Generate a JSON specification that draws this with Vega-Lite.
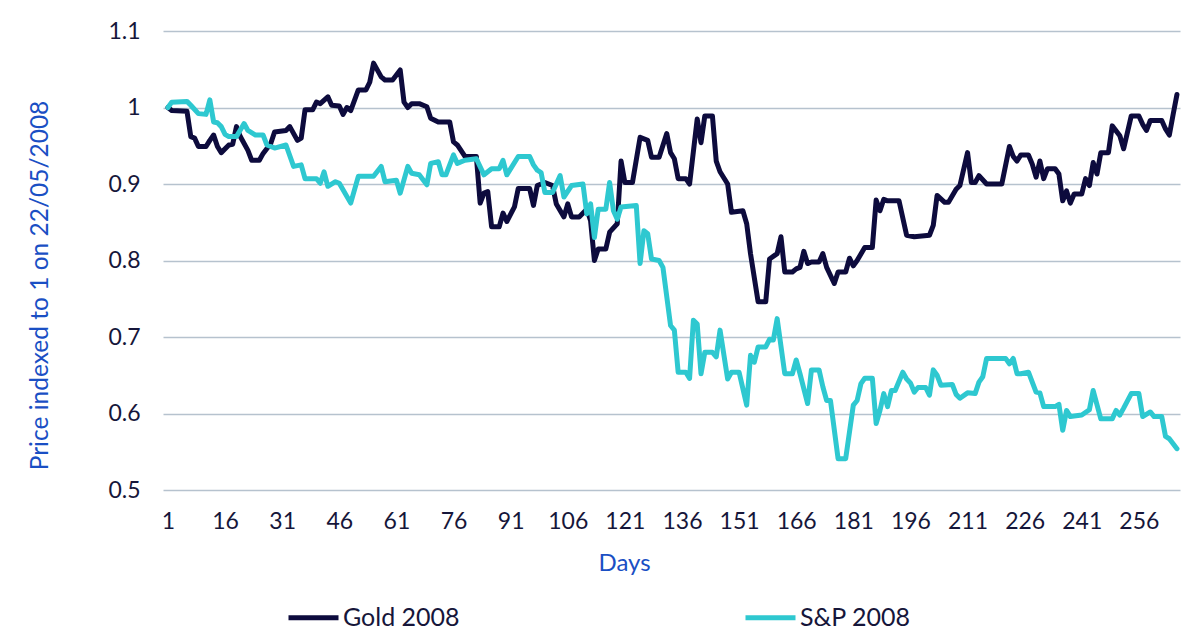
{
  "$schema": "https://vega.github.io/schema/vega-lite/v6.json",
  "width": 1017,
  "height": 459,
  "autosize": "none",
  "padding": {"left": 163, "top": 31, "right": 20, "bottom": 141},
  "background": "white",
  "config": {
    "font": "Lato",
    "view": {"stroke": null}
  },
  "datasets": {
    "gold": [
      {"day":1,"value":1.0},{"day":2,"value":0.996},{"day":6,"value":0.995},{"day":7,"value":0.962},{"day":8,"value":0.96},{"day":9,"value":0.949},{"day":11,"value":0.949},{"day":12,"value":0.957},{"day":13,"value":0.964},{"day":14,"value":0.949},{"day":15,"value":0.941},{"day":17,"value":0.951},{"day":18,"value":0.952},{"day":19,"value":0.975},{"day":20,"value":0.962},{"day":22,"value":0.944},{"day":23,"value":0.931},{"day":25,"value":0.931},{"day":26,"value":0.940},{"day":28,"value":0.953},{"day":29,"value":0.968},{"day":32,"value":0.970},{"day":33,"value":0.975},{"day":35,"value":0.957},{"day":36,"value":0.96},{"day":37,"value":0.997},{"day":39,"value":0.997},{"day":40,"value":1.007},{"day":41,"value":1.005},{"day":43,"value":1.014},{"day":44,"value":1.003},{"day":46,"value":1.002},{"day":47,"value":0.991},{"day":48,"value":1.0},{"day":49,"value":0.996},{"day":51,"value":1.023},{"day":53,"value":1.023},{"day":54,"value":1.033},{"day":55,"value":1.058},{"day":57,"value":1.040},{"day":58,"value":1.036},{"day":60,"value":1.036},{"day":62,"value":1.049},{"day":63,"value":1.007},{"day":64,"value":1.0},{"day":65,"value":1.005},{"day":67,"value":1.005},{"day":69,"value":1.001},{"day":70,"value":0.986},{"day":72,"value":0.981},{"day":75,"value":0.981},{"day":76,"value":0.955},{"day":77,"value":0.951},{"day":79,"value":0.936},{"day":82,"value":0.936},{"day":83,"value":0.875},{"day":84,"value":0.888},{"day":85,"value":0.890},{"day":86,"value":0.844},{"day":88,"value":0.844},{"day":89,"value":0.862},{"day":90,"value":0.851},{"day":92,"value":0.870},{"day":93,"value":0.894},{"day":96,"value":0.894},{"day":97,"value":0.872},{"day":98,"value":0.898},{"day":100,"value":0.902},{"day":102,"value":0.898},{"day":103,"value":0.874},{"day":105,"value":0.857},{"day":106,"value":0.874},{"day":107,"value":0.857},{"day":109,"value":0.857},{"day":111,"value":0.867},{"day":112,"value":0.852},{"day":113,"value":0.8},{"day":114,"value":0.815},{"day":116,"value":0.815},{"day":117,"value":0.837},{"day":119,"value":0.848},{"day":120,"value":0.930},{"day":121,"value":0.902},{"day":123,"value":0.902},{"day":125,"value":0.961},{"day":127,"value":0.957},{"day":128,"value":0.935},{"day":130,"value":0.935},{"day":132,"value":0.966},{"day":133,"value":0.941},{"day":134,"value":0.933},{"day":135,"value":0.907},{"day":137,"value":0.907},{"day":138,"value":0.9},{"day":140,"value":0.985},{"day":141,"value":0.954},{"day":142,"value":0.989},{"day":144,"value":0.989},{"day":145,"value":0.930},{"day":146,"value":0.916},{"day":148,"value":0.9},{"day":149,"value":0.863},{"day":152,"value":0.865},{"day":153,"value":0.848},{"day":154,"value":0.809},{"day":156,"value":0.746},{"day":158,"value":0.746},{"day":159,"value":0.802},{"day":161,"value":0.809},{"day":162,"value":0.831},{"day":163,"value":0.785},{"day":165,"value":0.785},{"day":166,"value":0.789},{"day":167,"value":0.791},{"day":168,"value":0.812},{"day":169,"value":0.796},{"day":170,"value":0.798},{"day":172,"value":0.798},{"day":173,"value":0.809},{"day":174,"value":0.791},{"day":176,"value":0.770},{"day":177,"value":0.785},{"day":179,"value":0.785},{"day":180,"value":0.803},{"day":181,"value":0.793},{"day":182,"value":0.8},{"day":184,"value":0.817},{"day":186,"value":0.817},{"day":187,"value":0.879},{"day":188,"value":0.865},{"day":189,"value":0.880},{"day":190,"value":0.878},{"day":193,"value":0.878},{"day":195,"value":0.833},{"day":197,"value":0.831},{"day":201,"value":0.833},{"day":202,"value":0.846},{"day":203,"value":0.885},{"day":205,"value":0.876},{"day":206,"value":0.876},{"day":208,"value":0.893},{"day":209,"value":0.898},{"day":211,"value":0.941},{"day":212,"value":0.902},{"day":213,"value":0.902},{"day":214,"value":0.911},{"day":216,"value":0.9},{"day":220,"value":0.9},{"day":222,"value":0.949},{"day":223,"value":0.936},{"day":224,"value":0.930},{"day":225,"value":0.938},{"day":227,"value":0.938},{"day":228,"value":0.926},{"day":229,"value":0.909},{"day":230,"value":0.930},{"day":231,"value":0.907},{"day":232,"value":0.920},{"day":234,"value":0.920},{"day":235,"value":0.913},{"day":236,"value":0.878},{"day":237,"value":0.891},{"day":238,"value":0.875},{"day":239,"value":0.887},{"day":241,"value":0.887},{"day":242,"value":0.907},{"day":243,"value":0.898},{"day":244,"value":0.928},{"day":245,"value":0.913},{"day":246,"value":0.941},{"day":248,"value":0.941},{"day":249,"value":0.976},{"day":251,"value":0.963},{"day":252,"value":0.946},{"day":254,"value":0.989},{"day":256,"value":0.989},{"day":257,"value":0.978},{"day":258,"value":0.970},{"day":259,"value":0.983},{"day":262,"value":0.983},{"day":263,"value":0.972},{"day":264,"value":0.964},{"day":265,"value":0.991},{"day":266,"value":1.017}
    ],
    "sp": [
      {"day":1,"value":1.0},{"day":2,"value":1.007},{"day":6,"value":1.008},{"day":7,"value":1.003},{"day":9,"value":0.992},{"day":11,"value":0.991},{"day":12,"value":1.010},{"day":13,"value":0.981},{"day":14,"value":0.980},{"day":15,"value":0.975},{"day":16,"value":0.965},{"day":17,"value":0.962},{"day":19,"value":0.962},{"day":21,"value":0.979},{"day":22,"value":0.970},{"day":24,"value":0.964},{"day":26,"value":0.964},{"day":27,"value":0.951},{"day":29,"value":0.947},{"day":32,"value":0.951},{"day":34,"value":0.923},{"day":36,"value":0.925},{"day":37,"value":0.907},{"day":40,"value":0.907},{"day":41,"value":0.901},{"day":42,"value":0.916},{"day":43,"value":0.897},{"day":45,"value":0.903},{"day":46,"value":0.901},{"day":49,"value":0.875},{"day":51,"value":0.910},{"day":55,"value":0.910},{"day":57,"value":0.923},{"day":58,"value":0.903},{"day":61,"value":0.905},{"day":62,"value":0.888},{"day":64,"value":0.923},{"day":65,"value":0.914},{"day":67,"value":0.912},{"day":69,"value":0.899},{"day":70,"value":0.927},{"day":72,"value":0.929},{"day":73,"value":0.912},{"day":74,"value":0.912},{"day":76,"value":0.938},{"day":77,"value":0.927},{"day":79,"value":0.931},{"day":82,"value":0.933},{"day":84,"value":0.912},{"day":86,"value":0.920},{"day":88,"value":0.920},{"day":89,"value":0.931},{"day":90,"value":0.912},{"day":93,"value":0.936},{"day":96,"value":0.936},{"day":97,"value":0.925},{"day":98,"value":0.918},{"day":99,"value":0.915},{"day":100,"value":0.889},{"day":102,"value":0.889},{"day":104,"value":0.911},{"day":105,"value":0.883},{"day":107,"value":0.898},{"day":110,"value":0.9},{"day":111,"value":0.861},{"day":112,"value":0.874},{"day":113,"value":0.830},{"day":114,"value":0.867},{"day":116,"value":0.867},{"day":117,"value":0.902},{"day":118,"value":0.865},{"day":119,"value":0.854},{"day":120,"value":0.870},{"day":124,"value":0.872},{"day":125,"value":0.796},{"day":126,"value":0.839},{"day":127,"value":0.835},{"day":128,"value":0.802},{"day":130,"value":0.8},{"day":131,"value":0.791},{"day":133,"value":0.715},{"day":134,"value":0.709},{"day":135,"value":0.654},{"day":137,"value":0.654},{"day":138,"value":0.646},{"day":139,"value":0.722},{"day":140,"value":0.717},{"day":141,"value":0.652},{"day":142,"value":0.680},{"day":144,"value":0.680},{"day":145,"value":0.674},{"day":146,"value":0.709},{"day":148,"value":0.645},{"day":149,"value":0.654},{"day":151,"value":0.654},{"day":153,"value":0.611},{"day":154,"value":0.676},{"day":155,"value":0.667},{"day":156,"value":0.687},{"day":158,"value":0.687},{"day":159,"value":0.697},{"day":160,"value":0.696},{"day":161,"value":0.724},{"day":163,"value":0.652},{"day":165,"value":0.652},{"day":166,"value":0.670},{"day":167,"value":0.652},{"day":169,"value":0.613},{"day":170,"value":0.657},{"day":172,"value":0.657},{"day":173,"value":0.635},{"day":174,"value":0.617},{"day":175,"value":0.617},{"day":177,"value":0.541},{"day":179,"value":0.541},{"day":181,"value":0.611},{"day":182,"value":0.617},{"day":183,"value":0.639},{"day":184,"value":0.646},{"day":186,"value":0.646},{"day":187,"value":0.587},{"day":188,"value":0.604},{"day":189,"value":0.626},{"day":190,"value":0.609},{"day":191,"value":0.630},{"day":192,"value":0.630},{"day":194,"value":0.654},{"day":195,"value":0.645},{"day":196,"value":0.640},{"day":197,"value":0.628},{"day":198,"value":0.634},{"day":200,"value":0.634},{"day":201,"value":0.624},{"day":202,"value":0.657},{"day":203,"value":0.650},{"day":204,"value":0.637},{"day":207,"value":0.638},{"day":208,"value":0.625},{"day":209,"value":0.620},{"day":211,"value":0.627},{"day":213,"value":0.626},{"day":214,"value":0.641},{"day":215,"value":0.648},{"day":216,"value":0.672},{"day":221,"value":0.672},{"day":222,"value":0.665},{"day":223,"value":0.672},{"day":224,"value":0.652},{"day":225,"value":0.652},{"day":227,"value":0.654},{"day":229,"value":0.628},{"day":230,"value":0.627},{"day":231,"value":0.609},{"day":234,"value":0.609},{"day":235,"value":0.612},{"day":236,"value":0.578},{"day":237,"value":0.604},{"day":238,"value":0.596},{"day":241,"value":0.598},{"day":243,"value":0.605},{"day":244,"value":0.630},{"day":246,"value":0.593},{"day":249,"value":0.593},{"day":250,"value":0.604},{"day":251,"value":0.598},{"day":252,"value":0.607},{"day":254,"value":0.626},{"day":256,"value":0.626},{"day":257,"value":0.596},{"day":259,"value":0.602},{"day":260,"value":0.596},{"day":262,"value":0.596},{"day":263,"value":0.570},{"day":264,"value":0.567},{"day":266,"value":0.554}
    ]
  },
  "encoding": {
    "x": {
      "field": "day",
      "type": "quantitative",
      "scale": {"domain": [-0.3, 266.8], "nice": false, "zero": false},
      "axis": {
        "title": "Days",
        "titleColor": "#1a4fc4",
        "titleFontSize": 24,
        "titleFontWeight": "normal",
        "titleX": 461,
        "titleY": 73,
        "titleBaseline": "middle",
        "titleAlign": "center",
        "values": [1, 16, 31, 46, 61, 76, 91, 106, 121, 136, 151, 166, 181, 196, 211, 226, 241, 256],
        "labelFontSize": 23,
        "labelColor": "#16163a",
        "labelPadding": 20,
        "labelFlush": false,
        "labelOverlap": false,
        "ticks": false,
        "domain": false,
        "grid": false
      }
    },
    "y": {
      "field": "value",
      "type": "quantitative",
      "scale": {"domain": [0.5, 1.1], "nice": false, "zero": false},
      "axis": {
        "title": "Price indexed to 1 on 22/05/2008",
        "titleColor": "#1a4fc4",
        "titleFontSize": 24.5,
        "titleFontWeight": "normal",
        "titleX": -123,
        "titleY": 254,
        "titleAngle": 270,
        "titleAlign": "center",
        "titleBaseline": "middle",
        "values": [0.5, 0.6, 0.7, 0.8, 0.9, 1, 1.1],
        "labelExpr": "datum.value == 1 ? '1' : format(datum.value, '.1f')",
        "labelFontSize": 23,
        "labelColor": "#16163a",
        "labelPadding": 23,
        "labelFlush": false,
        "ticks": false,
        "domain": false,
        "grid": true,
        "gridColor": "#b6c2ce",
        "gridWidth": 1.5
      }
    },
    "color": {
      "scale": {"domain": ["Gold 2008", "S&P 2008"], "range": ["#0d0b3d", "#2ec8d0"]},
      "legend": {
        "title": null,
        "orient": "none",
        "direction": "horizontal",
        "legendX": 123,
        "legendY": 559,
        "symbolType": "stroke",
        "symbolSize": 2500,
        "symbolStrokeWidth": 5,
        "labelFontSize": 25,
        "labelColor": "#16163a",
        "labelOffset": 2,
        "columnPadding": 275
      }
    }
  },
  "layer": [
    {
      "data": {"name": "gold"},
      "mark": {"type": "line", "strokeWidth": 5, "strokeJoin": "round", "strokeCap": "round"},
      "encoding": {"color": {"datum": "Gold 2008"}}
    },
    {
      "data": {"name": "sp"},
      "mark": {"type": "line", "strokeWidth": 5, "strokeJoin": "round", "strokeCap": "round"},
      "encoding": {"color": {"datum": "S&P 2008"}}
    }
  ]
}
